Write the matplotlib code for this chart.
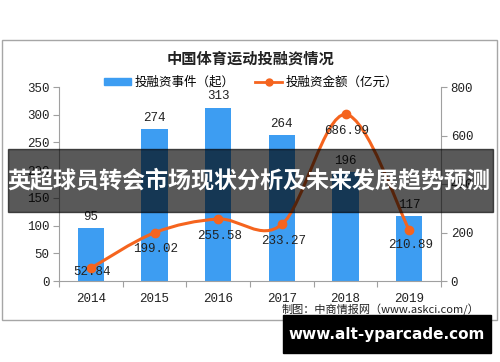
import matplotlib
matplotlib.use("Agg")
import matplotlib.pyplot as plt
from matplotlib.path import Path
from matplotlib.patches import PathPatch, Rectangle
from matplotlib.lines import Line2D
import numpy as np

plt.rcParams['font.family'] = ['Noto Sans CJK SC', 'DejaVu Sans']

years = ['2014', '2015', '2016', '2017', '2018', '2019']
events = [95, 274, 313, 264, 196, 117]
amounts = [52.84, 199.02, 255.58, 233.27, 686.99, 210.89]
amount_labels = ['52.84', '199.02', '255.58', '233.27', '686.99', '210.89']
left_ticks = [0, 50, 100, 150, 200, 250, 300, 350]
right_ticks = [0, 200, 400, 600, 800]

BLUE = '#3d9df2'
ORANGE = '#f5641e'
NUMFONT = ['Liberation Mono', 'DejaVu Sans Mono']

fig = plt.figure(figsize=(5.0, 3.62), dpi=100)
W, H = 500, 362
def fx(px): return px / W
def fy(py): return 1 - py / H

# outer border
fig.patches.append(Rectangle((fx(1.5), fy(320)), fx(497) - fx(1.5), fy(40) - fy(320),
                             transform=fig.transFigure, fill=False, ec='#a6a6a6', lw=1.0))

ax = fig.add_axes([fx(59), fy(281), fx(441) - fx(59), fy(87) - fy(281)])
ax2 = ax.twinx()
x = np.arange(len(years))

ax.bar(x, events, width=0.41, color=BLUE, zorder=2)
ax.set_xlim(-0.5, len(years) - 0.5)
ax.set_ylim(0, 350)
ax.set_yticks(left_ticks)
ax.set_yticklabels([str(t) for t in left_ticks], family=NUMFONT, fontsize=9)
ax.set_xticks(np.arange(-0.5, len(years), 1.0))
ax.set_xticklabels([''] * (len(years) + 1))
ax.set_xticks(x, minor=True)
ax.set_xticklabels(years, minor=True, family=NUMFONT, fontsize=9)
ax.tick_params(axis='x', which='major', length=4, color='#a0a0a0', direction='out')
ax.tick_params(axis='x', which='minor', length=0, pad=9, colors='#222222')
ax.tick_params(axis='y', length=4, color='#a0a0a0', colors='#222222', pad=3)
for s in ['top', 'right']:
    ax.spines[s].set_visible(False)
for s in ['left', 'bottom']:
    ax.spines[s].set_color('#a0a0a0')
ax2.spines['top'].set_visible(False)
ax2.spines['left'].set_visible(False)
ax2.spines['bottom'].set_visible(False)
ax2.spines['right'].set_color('#a0a0a0')

for xi, v in zip(x, events):
    ax.annotate(str(v), (xi, v), xytext=(0, 8), textcoords='offset points',
                ha='center', va='center', family=NUMFONT, fontsize=9, color='#222222')

# smooth line (Catmull-Rom as cubic Bezier) on right axis
ax2.set_ylim(0, 800)
ax2.set_yticks(right_ticks)
ax2.set_yticklabels([str(t) for t in right_ticks], family=NUMFONT, fontsize=9)
ax2.tick_params(axis='y', length=4, color='#a0a0a0', colors='#222222', pad=3)
P = np.column_stack([x.astype(float), np.array(amounts)])
Pe = np.vstack([P[0], P, P[-1]])
verts = [tuple(P[0])]
codes = [Path.MOVETO]
for i in range(1, len(Pe) - 2):
    p0, p1, p2, p3 = Pe[i - 1], Pe[i], Pe[i + 1], Pe[i + 2]
    c1 = p1 + (p2 - p0) / 6.0
    c2 = p2 - (p3 - p1) / 6.0
    verts += [tuple(c1), tuple(c2), tuple(p2)]
    codes += [Path.CURVE4] * 3
ax2.add_patch(PathPatch(Path(verts, codes), fill=False, ec=ORANGE, lw=2.2, zorder=3))
ax2.plot(x, amounts, 'o', color=ORANGE, ms=6, zorder=4)
offs = [-3, -12, -12, -12, -12, -11]
for xi, v, lab, o in zip(x, amounts, amount_labels, offs):
    ax2.annotate(lab, (xi, v), xytext=(1, o), textcoords='offset points',
                 ha='center', va='center', family=NUMFONT, fontsize=9, color='#222222', zorder=5)

# title and legend
fig.text(fx(251), fy(58.5), '中国体育运动投融资情况', ha='center', va='center',
         fontsize=11, fontweight='bold', color='#222222')
h1 = Rectangle((0, 0), 1, 1, color=BLUE)
h2 = Line2D([0], [0], color=ORANGE, lw=2, marker='o', ms=5)
fig.legend([h1, h2], ['投融资事件（起）', '投融资金额（亿元）'], ncol=2, loc='center',
           bbox_to_anchor=(fx(251), fy(82)), frameon=False, fontsize=9,
           handlelength=2.2, handleheight=0.5, columnspacing=1.6, handletextpad=0.3)

# source
fig.text(fx(380), fy(310), '制图：中商情报网（www.askci.com/）', ha='center', va='center',
         fontsize=8, color='#222222')

# overlay banner
fig.patches.append(Rectangle((fx(8), fy(212)), fx(493) - fx(8), fy(149) - fy(212),
                             transform=fig.transFigure, color='black', alpha=0.65, zorder=10))
fig.text(fx(249), fy(181), '英超球员转会市场现状分析及未来发展趋势预测', ha='center', va='center',
         fontsize=16.6, fontweight='bold', color='white', zorder=11)

# bottom black box
fig.patches.append(Rectangle((fx(283), fy(353)), fx(491) - fx(283), fy(315) - fy(353),
                             transform=fig.transFigure, color='black', zorder=10))
fig.text(fx(387), fy(334), 'www.alt-yparcade.com', ha='center', va='center',
         fontsize=11, fontweight='bold', color='white', family='DejaVu Sans', zorder=11)

fig.savefig('out.png', dpi=100)
